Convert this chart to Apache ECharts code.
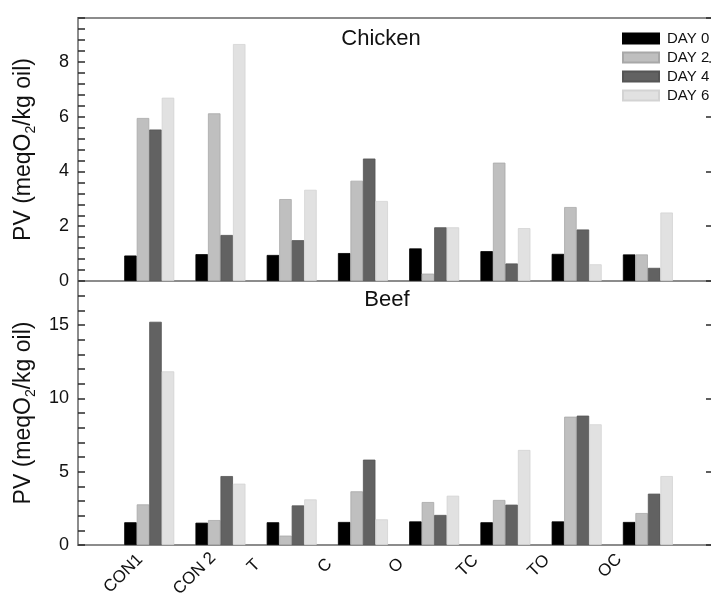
<!DOCTYPE html>
<html>
<head>
<meta charset="utf-8">
<script src="https://cdn.jsdelivr.net/npm/echarts@6/dist/echarts.min.js"></script>
<style>
  html, body { margin: 0; padding: 0; background: #fff; overflow: hidden; }
  #chart { width: 720px; height: 598px; }
</style>
</head>
<body>
<div id="chart"></div>
<script>
// Peroxide value (meq O2/kg oil) by treatment and storage day
const categories = ['CON1', 'CON 2', 'T', 'C', 'O', 'TC', 'TO', 'OC'];
const days = ['DAY 0', 'DAY 2', 'DAY 4', 'DAY 6'];

const chickenDay0 = [0.93, 0.98, 0.95, 1.02, 1.19, 1.09, 0.99, 0.97];
const chickenDay2 = [5.95, 6.12, 2.99, 3.66, 0.27, 4.32, 2.70, 0.97];
const chickenDay4 = [5.53, 1.68, 1.49, 4.47, 1.96, 0.64, 1.88, 0.48];
const chickenDay6 = [6.69, 8.65, 3.33, 2.92, 1.96, 1.93, 0.61, 2.50];

const beefDay0 = [1.55, 1.52, 1.55, 1.57, 1.61, 1.55, 1.61, 1.57];
const beefDay2 = [2.77, 1.70, 0.64, 3.66, 2.93, 3.07, 8.75, 2.18];
const beefDay4 = [15.22, 4.70, 2.70, 5.82, 2.05, 2.75, 8.82, 3.50];
const beefDay6 = [11.84, 4.18, 3.11, 1.75, 3.36, 6.48, 8.23, 4.70];

const chickenTicks = [0, 2, 4, 6, 8];
const beefTicks = [0, 5, 10, 15];

const FONT = 'Liberation Sans, Arial, sans-serif';
const fills = ['#000000', '#bfbfbf', '#626262', '#e1e1e1'];
const edges = ['#000000', '#a8a8a8', '#555555', '#d3d3d3'];
const AXIS_GRAY = '#8c8c8c';

const chickenSets = [chickenDay0, chickenDay2, chickenDay4, chickenDay6];
const beefSets = [beefDay0, beefDay2, beefDay4, beefDay6];

const toPoints = vals => vals.map((v, i) => [i + 1, v]);
const onStep = (v, step) => Math.abs(v / step - Math.round(v / step)) < 1e-6;

const yName = '{a|PV (meqO}{s|2}{a|/kg oil)}';
const nameStyle = {
  fontFamily: FONT, color: '#111',
  rich: {
    a: { fontFamily: FONT, fontSize: 23, lineHeight: 28, color: '#111' },
    s: { fontFamily: FONT, fontSize: 14, lineHeight: 28, verticalAlign: 'bottom', color: '#111' }
  }
};

function leftAxis(grid, max, minorStep, labelStep, ticks) {
  return {
    gridIndex: grid, type: 'value', min: 0, max: max, interval: minorStep,
    position: 'left',
    axisLine: { show: true, lineStyle: { color: AXIS_GRAY, width: 2 } },
    axisTick: { show: true, inside: true, length: 7, lineStyle: { color: '#2a2a2a', width: 1.5 } },
    axisLabel: {
      show: true, margin: 9, fontSize: 18, color: '#111', fontFamily: FONT,
      formatter: v => (onStep(v, labelStep) && ticks.indexOf(Math.round(v)) >= 0) ? String(Math.round(v)) : ''
    },
    splitLine: { show: false },
    name: yName, nameLocation: 'middle', nameRotate: 90, nameGap: 40,
    nameTextStyle: nameStyle
  };
}

function rightAxis(grid, max, labelStep) {
  return {
    gridIndex: grid, type: 'value', min: 0, max: max, interval: labelStep,
    position: 'right',
    axisLine: { show: false },
    axisTick: { show: true, inside: true, length: 6, lineStyle: { color: '#2a2a2a', width: 1.5 } },
    axisLabel: { show: false },
    splitLine: { show: false }
  };
}

// Category names under the lower panel; longer names drop a little further
// so the tops of the slanted labels stay roughly level.
function categoryLabel(v) {
  if (!onStep(v, 1)) return '';
  const name = categories[Math.round(v) - 1];
  if (!name) return '';
  return name.length > 2 ? '{l|' + name + '}' : '{s|' + name + '}';
}

function xAxis(grid, withLabels) {
  return {
    gridIndex: grid, type: 'value', min: 0, max: 8.9, interval: 1,
    axisLine: { show: true, onZero: false, lineStyle: { color: AXIS_GRAY, width: 2 } },
    axisTick: { show: false },
    splitLine: { show: false },
    axisLabel: {
      show: withLabels, rotate: 45, margin: -17, fontSize: 17, color: '#111', fontFamily: FONT,
      align: 'center', verticalAlign: 'middle', padding: [0, 107, 0, 0],
      formatter: categoryLabel,
      rich: {
        s: { fontSize: 17, fontFamily: FONT, color: '#111' },
        l: { fontSize: 17, fontFamily: FONT, color: '#111', padding: [28, 0, 0, 6] }
      }
    }
  };
}

function barSeries(sets, grid) {
  return sets.map((vals, k) => ({
    name: days[k], type: 'bar',
    xAxisIndex: grid, yAxisIndex: grid * 2,
    data: toPoints(vals),
    barWidth: 12.5, barGap: '0%',
    itemStyle: { color: fills[k], borderColor: edges[k], borderWidth: 0.8 },
    emphasis: { disabled: true }
  }));
}

const chart = echarts.init(document.getElementById('chart'), null, { renderer: 'canvas' });

chart.setOption({
  animation: false,
  backgroundColor: '#ffffff',
  grid: [
    { left: 78, top: 18, width: 634, height: 263, show: true, borderColor: AXIS_GRAY, borderWidth: 2, outerBoundsMode: 'none', containLabel: false },
    { left: 78, top: 281, width: 634, height: 264, show: true, borderColor: AXIS_GRAY, borderWidth: 2, outerBoundsMode: 'none', containLabel: false }
  ],
  xAxis: [xAxis(0, false), xAxis(1, true)],
  yAxis: [
    leftAxis(0, 9.6, 0.4, 2, chickenTicks),
    rightAxis(0, 9.6, 2),
    leftAxis(1, 18, 1, 5, beefTicks),
    rightAxis(1, 18, 5)
  ],
  legend: {
    data: days, orient: 'vertical', left: 622, top: 31, padding: 0,
    itemWidth: 36, itemHeight: 10, itemGap: 4, icon: 'rect',
    backgroundColor: '#ffffff',
    textStyle: { fontSize: 15, color: '#111', fontFamily: FONT, padding: [0, 0, 0, 3] }
  },
  graphic: [
    { type: 'text', x: 381, y: 38.5, style: { text: 'Chicken', fontSize: 22, fontFamily: FONT, fill: '#111', align: 'center', verticalAlign: 'middle' } },
    { type: 'text', x: 387, y: 300, style: { text: 'Beef', fontSize: 22, fontFamily: FONT, fill: '#111', align: 'center', verticalAlign: 'middle' } }
  ],
  series: [...barSeries(chickenSets, 0), ...barSeries(beefSets, 1)]
});
</script>
</body>
</html>
